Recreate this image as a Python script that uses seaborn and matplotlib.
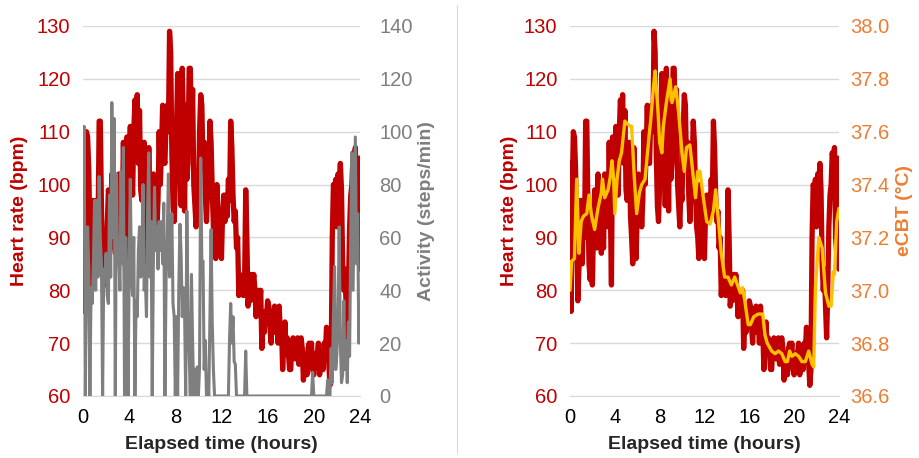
import numpy as np
import matplotlib
matplotlib.use("Agg")
import matplotlib.pyplot as plt
from matplotlib.lines import Line2D
import seaborn as sns

# sampling grid: every 6 minutes over 24 h
hours = np.round(np.arange(0, 24.01, 0.1), 1)

heart_rate = [
    104, 76, 98, 110, 109, 103, 90, 78, 84, 97,
    96, 85, 97, 90, 112, 112, 96, 85, 82, 86,
    81, 92, 99, 97, 88, 102, 95, 99, 87, 92,
    88, 102, 97, 101, 92, 108, 96, 81, 109, 100,
    105, 111, 103, 98, 110, 116, 112, 117, 104, 114,
    99, 97, 104, 108, 94, 90, 85, 107, 92, 86,
    95, 102, 94, 99, 92, 97, 110, 100, 106, 115,
    105, 104, 112, 115, 110, 129, 125, 106, 96, 93,
    100, 110, 121, 108, 118, 96, 122, 112, 95, 115,
    101, 104, 122, 122, 108, 118, 100, 96, 92, 99,
    97, 110, 117, 115, 103, 108, 98, 93, 99, 103,
    112, 108, 99, 92, 90, 86, 100, 93, 87, 90,
    86, 95, 98, 93, 98, 94, 101, 97, 112, 107,
    98, 93, 95, 88, 90, 79, 83, 80, 82, 79,
    81, 99, 90, 77, 80, 78, 83, 81, 83, 80,
    75, 79, 80, 77, 80, 69, 75, 72, 76, 75,
    78, 77, 73, 70, 76, 74, 77, 72, 75, 70,
    77, 72, 73, 65, 70, 74, 68, 71, 68, 65,
    65, 70, 71, 70, 67, 68, 71, 66, 70, 71,
    69, 63, 67, 68, 64, 69, 70, 68, 70, 65,
    64, 68, 66, 68, 70, 64, 66, 68, 65, 70,
    68, 73, 70, 66, 62, 65, 90, 100, 99, 101,
    92, 102, 100, 104, 99, 85, 80, 84, 77, 71,
    80, 92, 98, 100, 106, 104, 107, 90, 87, 105,
    84,
]

activity = [
    60, 102, 0, 45, 64, 48, 0, 41, 35, 50,
    74, 40, 74, 45, 83, 60, 50, 0, 48, 45,
    54, 38, 35, 76, 45, 111, 60, 105, 0, 84,
    50, 54, 40, 85, 50, 94, 0, 60, 41, 0,
    45, 82, 46, 38, 60, 0, 36, 30, 55, 64,
    45, 50, 80, 40, 45, 30, 70, 92, 45, 66,
    0, 50, 79, 55, 64, 48, 66, 55, 66, 50,
    73, 0, 44, 60, 84, 45, 50, 69, 35, 30,
    0, 30, 0, 40, 65, 54, 30, 41, 33, 0,
    70, 30, 16, 0, 46, 20, 0, 10, 0, 11,
    0, 11, 90, 50, 51, 10, 21, 0, 5, 0,
    30, 63, 28, 10, 0, 0, 0, 0, 0, 0,
    0, 0, 0, 0, 0, 0, 0, 22, 35, 20,
    30, 13, 12, 0, 0, 0, 0, 0, 0, 0,
    0, 17, 0, 0, 0, 0, 0, 0, 0, 0,
    0, 0, 0, 0, 0, 0, 0, 0, 0, 0,
    0, 0, 0, 0, 0, 0, 0, 0, 0, 0,
    0, 0, 0, 0, 0, 0, 0, 0, 0, 0,
    0, 0, 0, 0, 0, 0, 0, 0, 0, 0,
    0, 0, 0, 0, 0, 0, 0, 0, 0, 9,
    0, 0, 0, 0, 0, 0, 0, 0, 0, 0,
    0, 0, 6, 0, 0, 18, 5, 30, 49, 10,
    16, 30, 64, 20, 5, 8, 36, 10, 21, 5,
    28, 15, 60, 92, 40, 69, 98, 50, 69, 20,
    36,
]

ecbt_hours = [
    0.0, 0.15, 0.4, 0.6, 0.8, 1.0, 1.2, 1.5, 1.7, 1.9,
    2.2, 2.5, 2.8, 2.9, 3.1, 3.4, 3.6, 3.75, 3.9, 4.0,
    4.2, 4.4, 4.6, 4.9, 5.1, 5.4, 5.5, 5.75, 5.95, 6.2,
    6.4, 6.7, 6.85, 7.05, 7.2, 7.45, 7.6, 7.85, 8.0, 8.2,
    8.33, 8.6, 8.93, 9.1, 9.44, 9.7, 10.0, 10.2, 10.4, 10.7,
    10.9, 11.2, 11.4, 11.6, 11.9, 12.2, 12.5, 12.8, 13.0, 13.3,
    13.5, 13.8, 14.1, 14.4, 14.7, 15.2, 15.4, 15.6, 15.9, 16.1,
    16.4, 16.8, 17.2, 17.4, 17.6, 18.0, 18.3, 18.6, 18.9, 19.2,
    19.4, 19.6, 19.8, 20.1, 20.4, 20.7, 21.0, 21.3, 21.6, 21.75,
    21.9, 22.2, 22.5, 22.8, 23.1, 23.3, 23.5, 23.6, 23.8, 24.0,
]

ecbt = [
    37.00, 37.11, 37.12, 37.42, 37.14, 37.26, 37.28, 37.29, 37.36, 37.29,
    37.23, 37.31, 37.37, 37.42, 37.35, 37.38, 37.43, 37.49, 37.42, 37.29,
    37.42, 37.49, 37.52, 37.64, 37.63, 37.62, 37.62, 37.42, 37.29, 37.37,
    37.40, 37.42, 37.49, 37.58, 37.64, 37.77, 37.83, 37.68, 37.56, 37.52,
    37.62, 37.71, 37.80, 37.71, 37.77, 37.67, 37.52, 37.45, 37.54, 37.55,
    37.47, 37.35, 37.45, 37.45, 37.35, 37.26, 37.25, 37.30, 37.38, 37.24,
    37.14, 37.05, 37.05, 37.02, 37.05, 36.99, 37.01, 36.96, 36.87, 36.87,
    36.90, 36.91, 36.91, 36.83, 36.80, 36.77, 36.76, 36.77, 36.76, 36.73,
    36.73, 36.77, 36.75, 36.76, 36.75, 36.73, 36.73, 36.77, 36.72, 36.71,
    37.01, 37.20, 37.16, 36.99, 36.94, 36.94, 37.07, 37.06, 37.26, 37.31,
]

hr_ticks = [60, 70, 80, 90, 100, 110, 120, 130]
act_ticks = [0, 20, 40, 60, 80, 100, 120, 140]
ecbt_ticks = [36.6, 36.8, 37.0, 37.2, 37.4, 37.6, 37.8, 38.0]
hour_ticks = [0, 4, 8, 12, 16, 20, 24]

RED = "#C00000"
GRAY = "#7F7F7F"
GOLD = "#FFC000"
ORANGE = "#ED7D31"
GRID = "#D9D9D9"

sns.set_style("white")
plt.rcParams["font.family"] = ["Liberation Sans", "DejaVu Sans"]

fig = plt.figure(figsize=(9.19, 4.58), dpi=100)
axL = fig.add_axes([0.0903, 0.1354, 0.3014, 0.8079])
axR = fig.add_axes([0.6202, 0.1354, 0.2927, 0.8079])


def style_hr_axis(ax):
    ax.set_xlim(0, 24)
    ax.set_ylim(60, 130)
    ax.set_xticks(hour_ticks)
    ax.set_yticks(hr_ticks)
    ax.yaxis.grid(True, color=GRID, lw=1)
    ax.set_axisbelow(True)
    for s in ["left", "right", "top"]:
        ax.spines[s].set_visible(False)
    ax.spines["bottom"].set_color(GRID)
    ax.tick_params(axis="both", length=0, labelsize=14.5)
    ax.tick_params(axis="y", colors=RED, pad=9)
    ax.tick_params(axis="x", colors="black", pad=9)
    ax.set_xlabel("Elapsed time (hours)", fontsize=14, fontweight="bold")
    ax.set_ylabel("Heart rate (bpm)", fontsize=14, fontweight="bold", color=RED)
    ax.xaxis.set_label_coords(0.5, -0.108)


# left panel: heart rate + activity
sns.lineplot(x=hours, y=heart_rate, ax=axL, color=RED, lw=3.8, estimator=None)
style_hr_axis(axL)
axL.yaxis.set_label_coords(-0.199, 0.5)

axA = axL.twinx()
sns.lineplot(x=hours, y=activity, ax=axA, color=GRAY, lw=2.2, estimator=None)
axA.set_ylim(0, 140)
axA.set_yticks(act_ticks)
axA.tick_params(axis="y", length=0, labelsize=14.5, colors=GRAY, pad=14)
for s in axA.spines.values():
    s.set_visible(False)
axA.set_ylabel("Activity (steps/min)", fontsize=14, fontweight="bold", color=GRAY)
axA.yaxis.set_label_coords(1.209, 0.5)

# right panel: heart rate + eCBT
sns.lineplot(x=hours, y=heart_rate, ax=axR, color=RED, lw=3.8, estimator=None)
style_hr_axis(axR)
axR.yaxis.set_label_coords(-0.193, 0.5)

axT = axR.twinx()
sns.lineplot(x=ecbt_hours, y=ecbt, ax=axT, color=GOLD, lw=2.4, estimator=None)
axT.set_ylim(36.6, 38.0)
axT.set_yticks(ecbt_ticks)
axT.set_yticklabels([f"{v:.1f}" for v in ecbt_ticks])
axT.tick_params(axis="y", length=0, labelsize=14.5, colors=ORANGE, pad=8)
for s in axT.spines.values():
    s.set_visible(False)
axT.set_ylabel("eCBT (°C)", fontsize=14, fontweight="bold", color=ORANGE)
axT.yaxis.set_label_coords(1.212, 0.5)

fig.add_artist(Line2D([0.497, 0.497], [0.01, 0.99], color=GRID, lw=0.8,
                      transform=fig.transFigure))

fig.savefig("out.png", dpi=100)
